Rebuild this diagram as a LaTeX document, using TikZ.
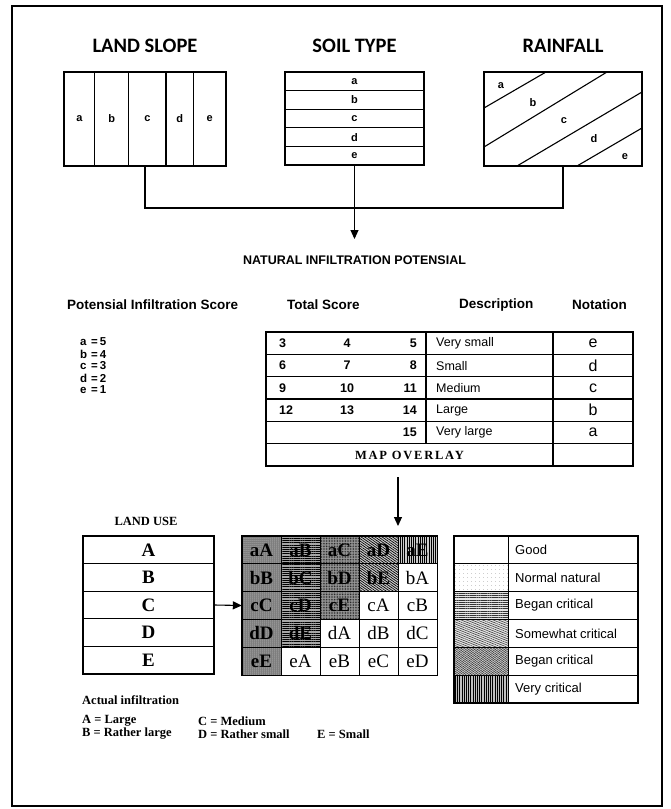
\documentclass[tikz,border=0pt]{standalone}
\usepackage{fontspec}
\setmainfont{Liberation Serif}
\setsansfont{Liberation Sans}
\newfontfamily\calib{Carlito}
\newfontfamily\serifsp[LetterSpace=14]{Liberation Serif}
\usetikzlibrary{arrows.meta,patterns.meta}
\tikzset{
  ln/.style={line width=1.1pt},
  frm/.style={line width=1.3pt},
  bx/.style={draw, line width=1.1pt, inner sep=0pt},
  ttl/.style={font=\calib\bfseries\fontsize{20.5}{22}\selectfont},
  lab/.style={font=\sffamily\bfseries\fontsize{11}{12}\selectfont, inner sep=0pt},
  nat/.style={font=\sffamily\bfseries\fontsize{12.5}{14}\selectfont},
  hdr/.style={font=\sffamily\bfseries\fontsize{13.5}{15}\selectfont, anchor=west, inner sep=0pt},
  lst/.style={font=\sffamily\bfseries\fontsize{11.5}{12}\selectfont, anchor=west, inner sep=0pt},
  num/.style={font=\sffamily\bfseries\fontsize{12.5}{14}\selectfont, inner sep=0pt},
  dsc/.style={font=\sffamily\fontsize{12.5}{14}\selectfont, anchor=west, inner sep=0pt},
  ntn/.style={font=\sffamily\fontsize{16}{18}\selectfont, inner sep=0pt},
  mo/.style={font=\serifsp\bfseries\fontsize{12.5}{14}\selectfont, inner sep=0pt},
  arr/.style={line width=1.1pt, -{Triangle[length=9pt,width=8pt]}},
  lurow/.style={draw, line width=1.1pt, minimum width=131pt, minimum height=27.6pt, inner sep=0pt, font=\bfseries\fontsize{19}{20}\selectfont},
  gc/.style={draw, line width=1pt, minimum width=39pt, minimum height=27.8pt, inner sep=0pt, font=\fontsize{19}{20}\selectfont},
  k0/.style={preaction={fill=black!55}, pattern={Dots[distance=2pt,radius=0.5pt]}, pattern color=white, font=\bfseries\fontsize{19}{20}\selectfont},
  k1/.style={preaction={fill=black!35}, pattern={Lines[angle=0,distance=2.2pt,line width=0.8pt]}, pattern color=black, font=\bfseries\fontsize{19}{20}\selectfont},
  k2/.style={preaction={fill=black!40}, pattern={Dots[distance=1.6pt,radius=0.45pt]}, pattern color=black, font=\bfseries\fontsize{19}{20}\selectfont},
  k3/.style={preaction={fill=black!20}, pattern={Lines[angle=-35,distance=2pt,line width=0.7pt]}, pattern color=black, font=\bfseries\fontsize{19}{20}\selectfont},
  k4/.style={preaction={fill=black!20}, pattern={Lines[angle=90,distance=2.2pt,line width=0.9pt]}, pattern color=black, font=\bfseries\fontsize{19}{20}\selectfont},
  kw/.style={fill=white},
  lgs/.style={draw, line width=1pt, minimum width=54pt, minimum height=27.83pt, inner sep=0pt},
  lgt/.style={draw, line width=1pt, minimum width=130pt, minimum height=27.83pt, inner sep=0pt},
  lgx/.style={font=\sffamily\fontsize{13}{14}\selectfont, anchor=west, inner sep=0pt},
  ser/.style={font=\bfseries\fontsize{12.5}{13}\selectfont, anchor=west, inner sep=0pt},
}
\newcommand\gcell[5]{\node[gc,#3] (#5) at ({242+39*(#1+0.5)},{536+27.8*(#2+0.5)}) {#4};}
\begin{document}
\begin{tikzpicture}[x=1pt,y=-1pt]
\useasboundingbox (0,0) rectangle (671,809);
\fill[white] (0,0) rectangle (671,809);
\draw[frm] (12,6) rectangle (662,806);

% ---------- titles ----------
\node[ttl] (tls) at (145,46) {LAND SLOPE};
\node[ttl] (tst) at (354.5,46) {SOIL TYPE};
\node[ttl] (trf) at (563,46) {RAINFALL};

% ---------- land slope ----------
\node[bx, minimum width=162pt, minimum height=94pt] (ls) at (145,119) {};
\foreach \xx in {94.8,128.8,166,193.6} \draw[ln] (\xx,72) -- (\xx,166);
\foreach \xx/\t in {79.4/a,111.8/b,147.4/c,179.8/d,209.8/e} \node[lab] (ls\t) at (\xx,119) {\t};

% ---------- soil type ----------
\node[bx, minimum width=139pt, minimum height=93pt] (st) at (354.5,118.5) {};
\foreach \yy in {90.6,109.2,127.8,146.4} \draw[ln] (285,\yy) -- (424,\yy);
\foreach \yy/\t in {81.3/a,99.9/b,118.5/c,137.1/d,155.7/e} \node[lab] (st\t) at (354.5,\yy) {\t};

% ---------- rainfall ----------
\node[bx, minimum width=158pt, minimum height=94pt] (rf) at (563,119) {};
\draw[ln] (484,108) -- (546,72);
\draw[ln] (484,147) -- (607,72);
\draw[ln] (517,166) -- (642,92);
\draw[ln] (577,166) -- (642,128);
\node[lab] (rfa) at (501,86) {a};
\node[lab] (rfb) at (533,103) {b};
\node[lab] (rfc) at (564,121) {c};
\node[lab] (rfd) at (594,139) {d};
\node[lab] (rfe) at (625,157) {e};

% ---------- connectors ----------
\coordinate (j) at (354.5,208);
\draw[ln] (ls.south) |- (j) -| (rf.south);
\coordinate (tip) at (354.5,239);
\draw[arr] (st.south) -- (tip);
\node[nat] (nat) at (354.5,260) {NATURAL INFILTRATION POTENSIAL};

% ---------- headers ----------
\node[hdr] (h1) at (67,305) {Potensial Infiltration Score};
\node[hdr] (h2) at (287,305) {Total Score};
\node[hdr] (h3) at (459,305) {Description};
\node[hdr] (h4) at (572,305) {Notation};

\foreach \t/\v [count=\i from 0] in {a/5,b/4,c/3,d/2,e/1}
  \node[lst] (p\t) at (80,{342+12*\i}) {\makebox[11pt][l]{\t}=\,\v};

% ---------- table ----------
\draw[ln] (266,332) rectangle (633,466);
\foreach \yy in {354.33,376.67,399,421.33,443.67} \draw[ln] (266,\yy) -- (633,\yy);
\draw[ln] (426,332) -- (426,443.67);
\draw[ln] (553,332) -- (553,466);
\foreach \a/\b/\c/\d/\n [count=\i from 0] in {3/4/5/Very small/e, 6/7/8/Small/d, 9/10/11/Medium/c, 12/13/14/Large/b, {}/{}/15/Very large/a}{
  \node[num, anchor=west] (ta\i) at (279,{343.2+22.33*\i}) {\a};
  \node[num] (tb\i) at (347,{343.2+22.33*\i}) {\b};
  \node[num, anchor=east] (tc\i) at (417,{343.2+22.33*\i}) {\c};
  \node[dsc] (td\i) at (436,{343.2+22.33*\i}) {\d};
  \node[ntn] (tn\i) at (593,{343.2+22.33*\i}) {\n};
}
\node[mo] (mo) at (409.5,455) {MAP OVERLAY};

% ---------- arrow to grid ----------
\coordinate (o1) at (398,477);
\coordinate (o2) at (398,526);
\draw[arr] (o1) -- (o2);

% ---------- land use ----------
\node[font=\bfseries\fontsize{12.5}{13}\selectfont] (lut) at (146,521) {LAND USE};
\foreach \t [count=\i from 0] in {A,B,C,D,E}
  \node[lurow] (lu\t) at (148.5,{536+27.6*(\i+0.5)}) {\t};
\node[minimum width=131pt, minimum height=138pt, inner sep=0pt] (lu) at (148.5,605) {};

% ---------- grid ----------
\node[minimum width=195pt, minimum height=139pt, inner sep=0pt] (g) at (339.5,605.5) {};
\gcell{0}{0}{k0}{aA}{gaA}\gcell{1}{0}{k1}{aB}{gaB}\gcell{2}{0}{k2}{aC}{gaC}\gcell{3}{0}{k3}{aD}{gaD}\gcell{4}{0}{k4}{aE}{gaE}
\gcell{0}{1}{k0}{bB}{gbB}\gcell{1}{1}{k1}{bC}{gbC}\gcell{2}{1}{k2}{bD}{gbD}\gcell{3}{1}{k3}{bE}{gbE}\gcell{4}{1}{kw}{bA}{gbA}
\gcell{0}{2}{k0}{cC}{gcC}\gcell{1}{2}{k1}{cD}{gcD}\gcell{2}{2}{k2}{cE}{gcE}\gcell{3}{2}{kw}{cA}{gcA}\gcell{4}{2}{kw}{cB}{gcB}
\gcell{0}{3}{k0}{dD}{gdD}\gcell{1}{3}{k1}{dE}{gdE}\gcell{2}{3}{kw}{dA}{gdA}\gcell{3}{3}{kw}{dB}{gdB}\gcell{4}{3}{kw}{dC}{gdC}
\gcell{0}{4}{k0}{eE}{geE}\gcell{1}{4}{kw}{eA}{geA}\gcell{2}{4}{kw}{eB}{geB}\gcell{3}{4}{kw}{eC}{geC}\gcell{4}{4}{kw}{eD}{geD}
\draw[line width=1.3pt] (g.north west) rectangle (g.south east);
\draw[arr] (lu.east) -- (g.west);

% ---------- legend ----------
\foreach \t/\s [count=\i from 0] in {Good/kw, Normal natural/l2, Began critical/l3, Somewhat critical/l4, Began critical/l5, Very critical/l6}{
  \node[lgt] (lt\i) at (573,{536+27.83*(\i+0.5)}) {};
  \node[lgx] (lx\i) at (515,{536+27.83*(\i+0.5)}) {\t};
}
\node[lgs] (ls0) at (481,549.9) {};
\node[lgs, pattern={Dots[distance=4pt,radius=0.35pt]}, pattern color=black!45] (ls1) at (481,577.7) {};
\node[lgs, preaction={fill=black!10}, pattern={Lines[angle=0,distance=2.2pt,line width=0.7pt]}, pattern color=black!80] (ls2) at (481,605.6) {};
\node[lgs, preaction={fill=black!10}, pattern={Lines[angle=-22,distance=2pt,line width=0.6pt]}, pattern color=black!75] (ls3) at (481,633.4) {};
\node[lgs, preaction={fill=black!20}, pattern={Lines[angle=-35,distance=1.7pt,line width=0.6pt]}, pattern color=black!80] (ls4) at (481,661.2) {};
\node[lgs, preaction={fill=black!25}, pattern={Lines[angle=90,distance=2.2pt,line width=0.9pt]}, pattern color=black] (ls5) at (481,689.1) {};
\draw[line width=1.2pt] (454,536) rectangle (638,703);

% ---------- actual infiltration ----------
\node[ser] (ai) at (82,700) {Actual infiltration};
\node[ser] (iA) at (82,721) {A = Large};
\node[ser] (iB) at (82,734) {B = Rather large};
\node[ser] (iC) at (198,721) {C = Medium};
\node[ser] (iD) at (198,734) {D = Rather small};
\node[ser] (iE) at (317,734) {E = Small};
\end{tikzpicture}
\end{document}
